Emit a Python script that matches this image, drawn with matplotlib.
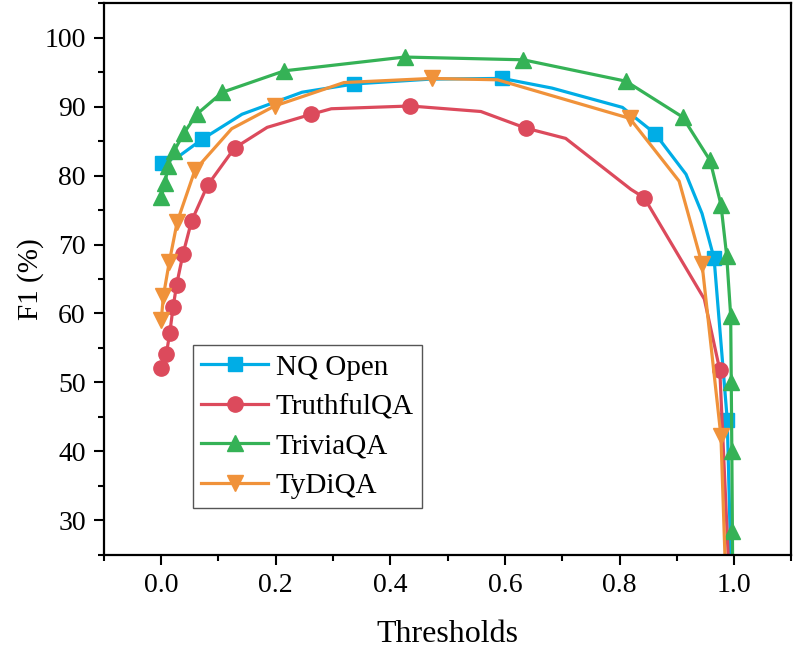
import matplotlib

matplotlib.use("Agg")
import matplotlib.pyplot as plt
from matplotlib.ticker import MultipleLocator

# ---------------------------------------------------------------------------
# Data
# ---------------------------------------------------------------------------

nq_x = [0.002, 0.034, 0.072, 0.141, 0.246, 0.337, 0.47, 0.595, 0.682, 0.805,
        0.862, 0.916, 0.944, 0.965, 0.988, 0.997]
nq_y = [81.8, 83.0, 85.3, 88.9, 92.1, 93.3, 94.0, 94.1, 92.7, 89.9,
        86.1, 80.2, 74.5, 68.0, 44.6, 15.0]
nq_marks = [0, 2, 5, 7, 10, 13, 14]

tqa_x = [0.0005, 0.009, 0.015, 0.021, 0.027, 0.038, 0.053, 0.081, 0.128, 0.185,
         0.262, 0.297, 0.435, 0.558, 0.636, 0.706, 0.820, 0.843, 0.948, 0.975, 0.995]
tqa_y = [52.1, 54.1, 57.2, 61.0, 64.2, 68.6, 73.4, 78.6, 84.0, 87.0,
         88.9, 89.7, 90.1, 89.3, 86.9, 85.4, 78.0, 76.8, 62.1, 51.8, 15.0]
tqa_marks = [0, 1, 2, 3, 4, 5, 6, 7, 8, 10, 12, 14, 17, 19]

trivia_x = [0.000, 0.007, 0.012, 0.022, 0.040, 0.062, 0.107, 0.215, 0.425, 0.632,
            0.811, 0.910, 0.958, 0.977, 0.987, 0.994, 0.995, 0.996, 0.997, 0.998]
trivia_y = [76.9, 79.0, 81.4, 83.5, 86.2, 88.9, 92.1, 95.2, 97.2, 96.8,
            93.7, 88.5, 82.2, 75.8, 68.4, 59.7, 50.1, 40.0, 28.5, 15.0]
trivia_marks = list(range(19))

tydi_x = [0.000, 0.004, 0.014, 0.028, 0.059, 0.123, 0.198, 0.319, 0.472, 0.587,
          0.818, 0.904, 0.944, 0.977, 0.988]
tydi_y = [59.0, 62.6, 67.4, 73.3, 80.8, 86.8, 90.1, 93.5, 94.1, 93.9,
          88.3, 79.2, 67.2, 42.2, 15.0]
tydi_marks = [0, 1, 2, 3, 4, 6, 8, 10, 12, 13]

plt.rcParams["font.family"] = ["Liberation Serif", "DejaVu Serif"]

fig = plt.figure(figsize=(7.93, 6.55), dpi=100)
ax = fig.add_axes([0.131, 0.153, 0.867, 0.842])

series = [
    ("NQ Open", nq_x, nq_y, nq_marks, "#00ADE6", "s", 9.5),
    ("TruthfulQA", tqa_x, tqa_y, tqa_marks, "#DC4A5C", "o", 11),
    ("TriviaQA", trivia_x, trivia_y, trivia_marks, "#35B256", "^", 12),
    ("TyDiQA", tydi_x, tydi_y, tydi_marks, "#F0923A", "v", 12),
]
for label, xs, ys, marks, color, marker, ms in series:
    ax.plot(xs, ys, color=color, linewidth=2.3, marker=marker, markersize=ms,
            markevery=marks, label=label)

ax.set_xlim(-0.1, 1.1)
ax.set_ylim(25, 105)
ax.xaxis.set_minor_locator(MultipleLocator(0.1))
ax.yaxis.set_minor_locator(MultipleLocator(5))
ax.set_xticks([0.0, 0.2, 0.4, 0.6, 0.8, 1.0])
ax.set_yticks([30, 40, 50, 60, 70, 80, 90, 100])
ax.tick_params(which="major", direction="out", length=7, width=1.5, labelsize=20, pad=6)
ax.tick_params(which="minor", direction="out", length=4, width=1.5)
for sp in ax.spines.values():
    sp.set_linewidth(1.6)

ax.set_xlabel("Thresholds", fontsize=23, labelpad=16)
ax.set_ylabel("F1 (%)", fontsize=21, labelpad=0)

leg = ax.legend(loc="lower left", bbox_to_anchor=(0.129, 0.085), borderaxespad=0,
                fontsize=21, fancybox=False, edgecolor="#555555", framealpha=1,
                handlelength=2.3, handletextpad=0.25, labelspacing=0.45, borderpad=0.3)
leg.get_frame().set_linewidth(1.0)

fig.savefig("out.png", dpi=100)
